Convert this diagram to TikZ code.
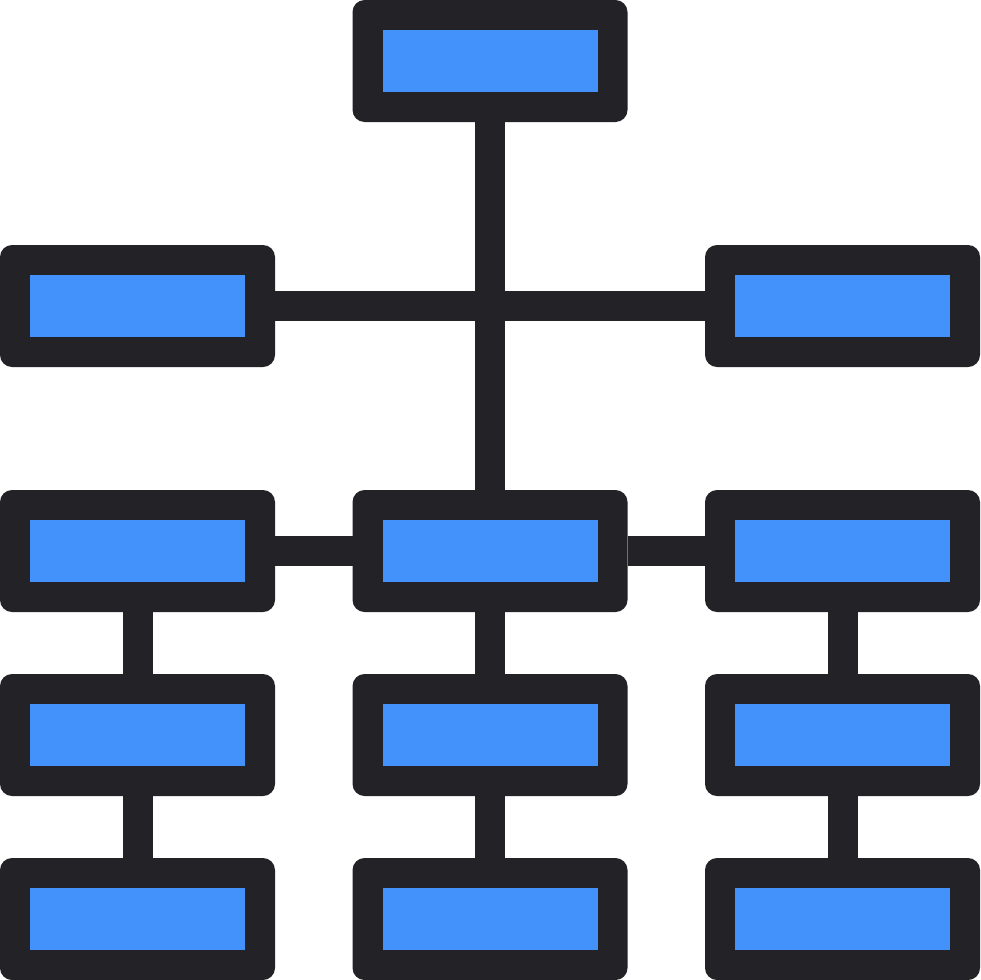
\documentclass[tikz,border=0pt]{standalone}
\definecolor{dark}{HTML}{232327}
\definecolor{blu}{HTML}{4392FB}
\begin{document}
\begin{tikzpicture}[x=1pt,y=-1pt,
  orgbox/.style={rectangle, fill=dark, rounded corners=12pt, minimum width=275pt, minimum height=122pt, inner sep=0pt, outer sep=0pt,
    path picture={\fill[blu, sharp corners] ([xshift=30pt,yshift=-30pt]path picture bounding box.north west) rectangle ([xshift=-30pt,yshift=30pt]path picture bounding box.south east);}},
  link/.style={draw=dark, line width=30pt}]
\useasboundingbox (0,0) rectangle (980,980);
\node[orgbox] (top) at (490,61) {};
\node[orgbox] (l2) at (137.5,306) {};
\node[orgbox] (r2) at (842.5,306) {};
\node[orgbox] (l3) at (137.5,551) {};
\node[orgbox] (m3) at (490,551) {};
\node[orgbox] (r3) at (842.5,551) {};
\node[orgbox] (l4) at (137.5,735) {};
\node[orgbox] (m4) at (490,735) {};
\node[orgbox] (r4) at (842.5,735) {};
\node[orgbox] (l5) at (137.5,919) {};
\node[orgbox] (m5) at (490,919) {};
\node[orgbox] (r5) at (842.5,919) {};
\draw[link] (top.south) -- (m3.north);
\draw[link] (l2.east) -- (r2.west);
\draw[link] (l3.east) -- (m3.west);
\draw[link] (m3.east) -- (r3.west);
\draw[link] (l3.south) -- (l4.north);
\draw[link] (l4.south) -- (l5.north);
\draw[link] (m3.south) -- (m4.north);
\draw[link] (m4.south) -- (m5.north);
\draw[link] (r3.south) -- (r4.north);
\draw[link] (r4.south) -- (r5.north);
\end{tikzpicture}
\end{document}
